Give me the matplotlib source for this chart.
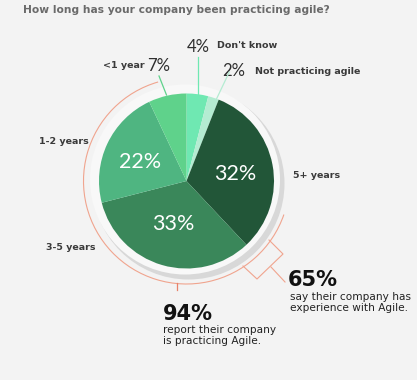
import matplotlib.pyplot as plt
from matplotlib.patches import Circle, Arc

# --- data (clockwise from 12 o'clock) ---
categories = ["Don't know", "Not practicing agile", "5+ years", "3-5 years", "1-2 years", "<1 year"]
shares = [4, 2, 32, 33, 22, 7]
colors = ["#6fe8b2", "#b4ecd2", "#225638", "#3a875a", "#4fb581", "#5fd28b"]
inner_labels = {"5+ years": "32%", "3-5 years": "33%", "1-2 years": "22%"}
practicing_share = 94
experienced_share = 65

BG = "#f3f3f3"
CX, CY, R = 186.5, 181.0, 87.5

fig = plt.figure(figsize=(4.17, 3.80), dpi=100, facecolor=BG)
ax = fig.add_axes([0, 0, 1, 1])

# ring + soft shadow round the pie
ax.add_patch(Circle((CX + 2, CY + 2.5), 96, fc="#d8d8d8", ec="none", zorder=1))
ax.add_patch(Circle((CX - 1.5, CY - 1.5), 95, fc="#f8f8f8", ec="none", zorder=2))

# y axis gets inverted below, so data-ccw is visually clockwise; -90 points up
wedges, _ = ax.pie(shares, colors=colors, startangle=-90, counterclock=True,
                   center=(CX, CY), radius=R, frame=True,
                   wedgeprops=dict(linewidth=0, zorder=3))
ax.set_xlim(0, 417)
ax.set_ylim(380, 0)   # pixel-like coordinates, y grows downwards
ax.set_aspect("equal")
ax.axis("off")

# orange decorative arc (visual 106 deg ccw to -19 deg)
ax.add_patch(Arc((CX, CY), 2 * 103, 2 * 103, theta1=19, theta2=254,
                 color="#f0a48e", lw=0.8, zorder=2))

# bracket for the 65 %
ax.plot([269, 283, 257, 243], [240, 254, 279, 266], color="#f0a48e", lw=0.8)
ax.plot([271, 285], [267, 282], color="#f0a48e", lw=0.8)
# leader for the 94 %
ax.plot([177.3, 177.3], [283, 290], color="#e8826a", lw=0.9)

# percentages inside
pct_font = dict(family="Lato", weight="normal", color="white", fontsize=15.5)
ax.text(140, 162, inner_labels["1-2 years"], ha="center", va="center", zorder=5, **pct_font)
ax.text(235.5, 173.5, inner_labels["5+ years"], ha="center", va="center", zorder=5, **pct_font)
ax.text(173.5, 224, inner_labels["3-5 years"], ha="center", va="center", zorder=5, **pct_font)

# outer percentages with leader lines
out_font = dict(family="Lato", weight="normal", color="#2e2e2e", fontsize=12)
lab_font = dict(family="DejaVu Sans", weight="bold", color="#3a3a3a", fontsize=6.8)

ax.plot([197.7, 197.7], [57, 93.5], color=colors[0], lw=0.9, zorder=4)
ax.text(186.5, 47, f"{shares[0]}%", ha="left", va="center", **out_font)
ax.text(217, 46, categories[0], ha="left", va="center", **lab_font)

ax.plot([229.3, 216], [72, 100], color=colors[1], lw=0.9, zorder=4)
ax.text(222.5, 71, f"{shares[1]}%", ha="left", va="center", **out_font)
ax.text(255, 71, categories[1], ha="left", va="center", **lab_font)

ax.plot([159, 166.5], [76, 95], color=colors[5], lw=0.9, zorder=4)
ax.text(147.5, 66, f"{shares[5]}%", ha="left", va="center", **out_font)
ax.text(103, 66, categories[5], ha="left", va="center", **lab_font)

ax.text(39, 142, categories[4], ha="left", va="center", **lab_font)
ax.text(46, 248, categories[3], ha="left", va="center", **lab_font)
ax.text(293, 175, categories[2], ha="left", va="center", **lab_font)

# title
ax.text(23, 10, "How long has your company been practicing agile?", ha="left", va="center",
        family="DejaVu Sans", weight="bold", color="#6a6a6a", fontsize=7.65)

# call-outs
big = dict(family="DejaVu Sans", weight="bold", color="#111111", fontsize=15)
body = dict(family="DejaVu Sans", color="#222222", fontsize=7.6, linespacing=1.05)
ax.text(288, 280, f"{experienced_share}%", ha="left", va="center", **big)
ax.text(290, 302.5, "say their company has\nexperience with Agile.", ha="left", va="center", **body)
ax.text(163, 314, f"{practicing_share}%", ha="left", va="center", **big)
ax.text(163, 335.5, "report their company\nis practicing Agile.", ha="left", va="center", **body)

fig.savefig("out.png", dpi=100, facecolor=BG)
